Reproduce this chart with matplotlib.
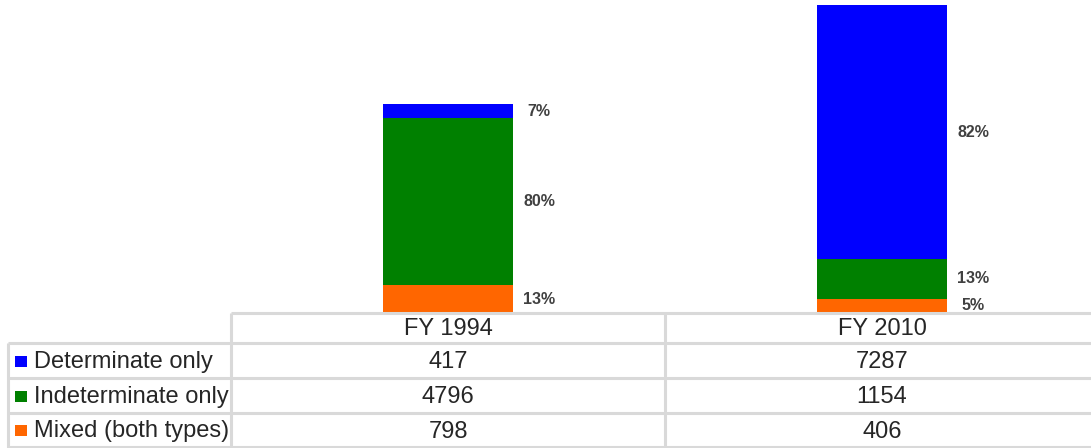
import numpy as np
import matplotlib
matplotlib.use("Agg")
import matplotlib.pyplot as plt

plt.rcParams['font.family'] = ['Liberation Sans', 'DejaVu Sans']

years = ['FY 1994', 'FY 2010']
series = ['Determinate only', 'Indeterminate only', 'Mixed (both types)']
determinate = [417, 7287]
indeterminate = [4796, 1154]
mixed = [798, 406]
colors = ['#0000ff', '#008000', '#ff6600']

W, H = 1091, 448
fig = plt.figure(figsize=(W / 100, H / 100), dpi=100)

# layout in pixels
x_tab = 231        # start of data columns
x_end = 1099       # table runs a bit past the right edge
y_base = 313       # bar baseline / table top
row_h = [30, 35, 35, 34]

# bar area
ax = fig.add_axes([x_tab / W, (H - y_base) / H, (x_end - x_tab) / W, y_base / H])
ax.set_xlim(0, len(years))
ax.set_ylim(0, 9000)
ax.axis('off')

xs = np.arange(len(years)) + 0.5
stack = [mixed, indeterminate, determinate]
stack_colors = [colors[2], colors[1], colors[0]]
bottom = np.zeros(len(years))
totals = np.array(determinate) + np.array(indeterminate) + np.array(mixed)
for vals, c in zip(stack, stack_colors):
    vals = np.array(vals, dtype=float)
    ax.bar(xs, vals, width=0.3, bottom=bottom, color=c, linewidth=0)
    for x, b, v, t in zip(xs, bottom, vals, totals):
        ax.text(x + 0.21, b + v / 2, f"{round(v / t * 100):.0f}%", ha='center', va='center',
                fontsize=11.5, fontweight='bold', color='#404040')
    bottom += vals

# table
tax = fig.add_axes([0, 0, 1, 1])
tax.set_xlim(0, W)
tax.set_ylim(H, 0)
tax.axis('off')
lc = '#d9d9d9'
lw = 2.2
col_edges = [x_tab, x_tab + (x_end - x_tab) / 2, x_end]
ys = [y_base]
for h in row_h:
    ys.append(ys[-1] + h)

tax.plot([x_tab, W], [ys[0], ys[0]], color=lc, lw=lw, solid_capstyle='butt')
for y in ys[1:]:
    tax.plot([8, W], [y, y], color=lc, lw=lw, solid_capstyle='butt')
tax.plot([8, 8], [ys[1], H], color=lc, lw=lw, solid_capstyle='butt')
for x in col_edges[:2]:
    tax.plot([x, x], [ys[0], H], color=lc, lw=lw, solid_capstyle='butt')

tc = '#262626'
fs = 17
for i, yr in enumerate(years):
    cx = (col_edges[i] + col_edges[i + 1]) / 2
    tax.text(cx, (ys[0] + ys[1]) / 2 + 1, yr, ha='center', va='center', fontsize=fs, color=tc)

rows = [determinate, indeterminate, mixed]
for r, (name, vals, c) in enumerate(zip(series, rows, colors)):
    cy = (ys[r + 1] + ys[r + 2]) / 2 + 1.5
    tax.add_patch(plt.Rectangle((15, cy - 6), 12, 11, color=c, lw=0))
    tax.text(34, cy, name, ha='left', va='center', fontsize=fs, color=tc)
    for i, v in enumerate(vals):
        cx = (col_edges[i] + col_edges[i + 1]) / 2
        tax.text(cx, cy, str(v), ha='center', va='center', fontsize=fs, color=tc)

fig.savefig('out.png', dpi=100)
